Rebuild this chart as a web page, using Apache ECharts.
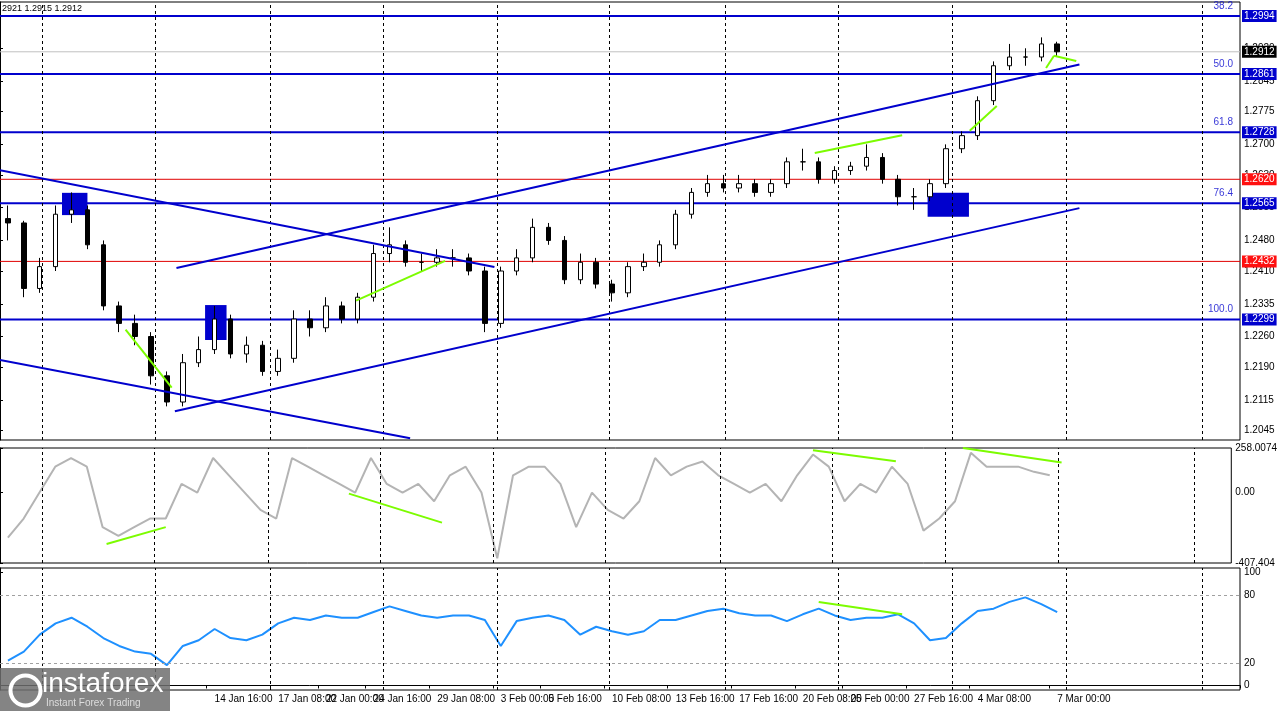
<!DOCTYPE html><html><head><meta charset="utf-8">
<script src="https://cdn.jsdelivr.net/npm/echarts@6/dist/echarts.min.js"></script>
<style>html,body{margin:0;padding:0;background:#fff}#c{width:1280px;height:711px}</style></head><body><div id="c"></div>
<script>
const closes=[1.2520,1.2370,1.2420,1.2540,1.2550,1.2470,1.2330,1.2290,1.2260,1.2170,1.2110,1.2200,1.2230,1.2300,1.2220,1.2240,1.2180,1.2210,1.2300,1.2280,1.2330,1.2300,1.2350,1.2450,1.2470,1.2430,1.2430,1.2440,1.2440,1.2410,1.2290,1.2410,1.2440,1.2510,1.2480,1.2390,1.2430,1.2380,1.2360,1.2420,1.2430,1.2470,1.2540,1.2590,1.2610,1.2600,1.2610,1.2590,1.2610,1.2660,1.2660,1.2620,1.2640,1.2650,1.2670,1.2620,1.2580,1.2580,1.2610,1.2690,1.2720,1.2800,1.2880,1.2900,1.2900,1.2930,1.2912];
const highs=[1.2560,1.2525,1.2440,1.2560,1.2590,1.2560,1.2480,1.2340,1.2310,1.2270,1.2180,1.2220,1.2260,1.2330,1.2310,1.2260,1.2250,1.2230,1.2320,1.2320,1.2350,1.2340,1.2360,1.2470,1.2510,1.2480,1.2450,1.2460,1.2460,1.2450,1.2420,1.2420,1.2460,1.2530,1.2520,1.2490,1.2450,1.2440,1.2390,1.2430,1.2450,1.2480,1.2550,1.2600,1.2630,1.2630,1.2630,1.2620,1.2620,1.2670,1.2690,1.2670,1.2650,1.2660,1.2700,1.2680,1.2630,1.2600,1.2620,1.2700,1.2730,1.2810,1.2890,1.2930,1.2920,1.2945,1.2935];
const lows=[1.2480,1.2350,1.2360,1.2410,1.2520,1.2460,1.2320,1.2270,1.2240,1.2150,1.2100,1.2100,1.2190,1.2220,1.2210,1.2200,1.2170,1.2170,1.2200,1.2260,1.2270,1.2290,1.2290,1.2340,1.2430,1.2420,1.2410,1.2420,1.2420,1.2400,1.2270,1.2280,1.2400,1.2430,1.2470,1.2380,1.2380,1.2370,1.2340,1.2350,1.2410,1.2420,1.2460,1.2530,1.2580,1.2590,1.2590,1.2580,1.2580,1.2600,1.2640,1.2610,1.2610,1.2630,1.2640,1.2610,1.2560,1.2550,1.2570,1.2600,1.2680,1.2710,1.2790,1.2870,1.2880,1.2890,1.2900];
const firstOpen=1.2530;
const cci=[-260,-150,0,150,200,150,-200,-250,-200,-150,-150,50,0,200,100,0,-100,-150,200,150,100,50,0,200,50,0,50,-50,100,150,0,-380,100,150,150,50,-200,0,-100,-150,-50,200,100,150,180,100,50,0,50,-50,100,220,150,-50,50,0,150,50,-220,-150,-50,230,150,150,150,120,100];
const rsi=[22,30,45,55,60,52,42,35,30,28,18,35,40,50,42,40,45,55,60,58,62,60,60,65,70,66,62,60,62,62,58,35,57,60,62,58,45,52,48,45,48,58,58,62,66,68,64,62,62,57,63,68,62,58,60,60,63,55,40,42,55,66,68,74,78,72,65];
const xLabelMap={10:'10 Jan 00:00',13:'14 Jan 16:00',17:'17 Jan 08:00',20:'22 Jan 00:00',23:'24 Jan 16:00',27:'29 Jan 08:00',31:'3 Feb 00:00',34:'5 Feb 16:00',38:'10 Feb 08:00',42:'13 Feb 16:00',46:'17 Feb 16:00',50:'20 Feb 08:00',53:'25 Feb 00:00',57:'27 Feb 16:00',61:'4 Mar 08:00',66:'7 Mar 00:00'};
const priceTicks=[1.2045,1.2115,1.2190,1.2260,1.2335,1.2410,1.2480,1.2555,1.2630,1.2700,1.2775,1.2845,1.2920];
const fibLevels=[1.2994,1.2861,1.2728,1.2565,1.2299];
const fibNames=['38.2','50.0','61.8','76.4','100.0'];
const redLevels=[1.2620,1.2432];
const lastPrice=1.2912;
const vLines=[2.65,9.75,17,24.1,31.25,38.35,45.6,52.7,59.9,67.05,75.65];
const channelUp=[[11.1,1.2417],[67.9,1.2883]];
const channelLow=[[11,1.2089],[67.9,1.2554]];
const desc1=[[0,1.2641],[31.1,1.2419]];
const desc2=[[0,1.2206],[25.8,1.2027]];
const greenMain=[[[7.9,1.2276],[10.8,1.2143]],[[22.4,1.2342],[28,1.2433]],[[51.25,1.2680],[56.75,1.2721]],[[61,1.2731],[62.7,1.2788]],[[65.8,1.2875],[66.3,1.2903]],[[66.3,1.2903],[67.7,1.2891]]];
const greenCci=[[[6.75,-297],[10.5,-200]],[[22.1,-6],[28,-174]],[[51.5,245],[56.75,181]],[[61,258],[67.25,174]]];
const greenRsi=[[[51.5,74],[56.75,63]]];
const boxes=[[[3.9,1.2589],[5.5,1.2538]],[[12.9,1.2332],[14.25,1.2252]],[[58.35,1.2589],[60.95,1.2534]]];
const NCAT=78;

const cats=[];for(let i=0;i<NCAT;i++)cats.push(xLabelMap[i]||'');
const ohlc=closes.map((c,i)=>[i?closes[i-1]:firstOpen,c,lows[i],highs[i]]);
const gridsDef=[{left:0,right:40,top:2,height:438},{left:0,right:40,top:448,height:115},{left:0,right:40,top:568,height:122}];
const grid=gridsDef.map(g=>Object.assign({show:true,borderColor:'#000',borderWidth:1,backgroundColor:'#fff'},g));
const xAxis=[],yAxis=[];
for(let k=0;k<3;k++){
 xAxis.push({type:'category',gridIndex:k,data:cats,boundaryGap:true,axisLine:{show:k==2,lineStyle:{color:'#000'}},axisTick:{show:k==2,interval:(i,v)=>v!=='',length:3,lineStyle:{color:'#000'}},axisLabel:{show:k==2,interval:(i,v)=>v!=='',color:'#000',fontSize:10,fontFamily:'Liberation Sans',align:'left',margin:4},splitLine:{show:false}});
}
for(let k=0;k<3;k++){xAxis.push({type:'value',gridIndex:k,min:0,max:NCAT,show:false});}
const lab={color:'#000',fontSize:10,fontFamily:'Liberation Sans',margin:4};
yAxis.push({type:'value',gridIndex:0,position:'right',min:1.2023,max:1.3026,axisLine:{show:true,lineStyle:{color:'#000'}},axisTick:{show:true,customValues:priceTicks,length:3,lineStyle:{color:'#000'}},axisLabel:Object.assign({customValues:priceTicks,formatter:v=>v.toFixed(4)},lab),splitLine:{show:false}});
yAxis.push({type:'value',gridIndex:1,position:'right',min:-407.404,max:258.0074,axisLine:{show:true,lineStyle:{color:'#000'}},axisTick:{show:true,customValues:[258.0074,0,-407.404],length:3},axisLabel:Object.assign({customValues:[258.0074,0,-407.404],formatter:v=>v===0?'0.00':String(v),verticalAlign:'middle'},lab),splitLine:{show:false}});
yAxis.push({type:'value',gridIndex:2,position:'right',min:-4,max:104,axisLine:{show:true,lineStyle:{color:'#000'}},axisTick:{show:true,customValues:[0,20,80,100],length:3},axisLabel:Object.assign({customValues:[0,20,80,100]},lab),splitLine:{show:false}});
const levelVals=[...fibLevels,...redLevels,lastPrice];
const boxStyle={color:'#fff',fontSize:10,fontFamily:'Liberation Sans',padding:[1,2]};
yAxis.push({type:'value',gridIndex:0,position:'right',min:1.2023,max:1.3026,z:20,axisLine:{show:false},axisTick:{show:false},splitLine:{show:false},
 axisLabel:{customValues:levelVals,margin:2,showMinLabel:true,showMaxLabel:true,hideOverlap:false,
  formatter:v=>{const s=v.toFixed(4);if(fibLevels.some(f=>Math.abs(f-v)<1e-6))return '{b|'+s+'}';if(redLevels.some(f=>Math.abs(f-v)<1e-6))return '{r|'+s+'}';return '{k|'+s+'}';},
  rich:{b:Object.assign({backgroundColor:'#0000cd'},boxStyle),r:Object.assign({backgroundColor:'#ff1010'},boxStyle),k:Object.assign({backgroundColor:'#000'},boxStyle)}}});
const blue='#0000cd', green='#7cfc00';
function seg(pts,xi,yi,color,w,z){return {type:'line',xAxisIndex:xi,yAxisIndex:yi,data:pts,symbol:'none',silent:true,lineStyle:{color:color,width:w},z:z||5,animation:false};}
const series=[];
series.push({type:'candlestick',xAxisIndex:0,yAxisIndex:0,data:ohlc,barWidth:5,z:4,animation:false,
 itemStyle:{color:'#fff',color0:'#000',borderColor:'#000',borderColor0:'#000',borderWidth:1}});
function hline(v,color,w){
 return {type:'line',xAxisIndex:3,yAxisIndex:0,silent:true,z:3,animation:false,symbol:'none',lineStyle:{color:color,width:w},data:[[0,v],[NCAT,v]]};
}
fibLevels.forEach((v,i)=>{series.push(hline(v,blue,2));
 series.push({type:'scatter',xAxisIndex:3,yAxisIndex:0,symbolSize:0,silent:true,z:9,data:[{value:[NCAT,v],label:{show:true,position:'insideBottomRight',offset:[-2,0],formatter:fibNames[i],color:blue,fontSize:10,fontFamily:'Liberation Sans',align:'right',verticalAlign:'bottom'}}]});});
redLevels.forEach(v=>series.push(hline(v,'#e00000',1)));
series.push(hline(lastPrice,'#c0c0c0',1));
for(let k=0;k<3;k++){series.push({type:'line',xAxisIndex:3+k,yAxisIndex:k,data:[],markLine:{silent:true,symbol:'none',animation:false,label:{show:false},lineStyle:{color:'#000',type:[3,3],width:1},data:vLines.map(v=>({xAxis:v}))}});}
[channelUp,channelLow,desc1,desc2].forEach(p=>series.push(seg(p,3,0,blue,2,6)));
greenMain.forEach(p=>series.push(seg(p,3,0,green,2,7)));
greenCci.forEach(p=>series.push(seg(p,4,1,green,2,7)));
greenRsi.forEach(p=>series.push(seg(p,5,2,green,2,7)));
series.push({type:'line',xAxisIndex:3,yAxisIndex:0,data:[],markArea:{silent:true,itemStyle:{color:blue,opacity:1},data:boxes.map(b=>[{coord:b[0]},{coord:b[1]}])},z:8});
series.push({type:'line',xAxisIndex:1,yAxisIndex:1,data:cci,symbol:'none',lineStyle:{color:'#b4b4b4',width:2},animation:false});
series.push({type:'line',xAxisIndex:2,yAxisIndex:2,data:rsi,symbol:'none',lineStyle:{color:'#1e90ff',width:2},animation:false,
 markLine:{silent:true,symbol:'none',label:{show:false},lineStyle:{color:'#a0a0a0',type:[3,3],width:1},data:[{yAxis:80},{yAxis:20}]}});
const chart=echarts.init(document.getElementById('c'));
chart.setOption({animation:false,grid,xAxis,yAxis,series,
 graphic:[
  {type:'text',left:2,top:4,style:{text:'2921 1.2915 1.2912',fontSize:9,fill:'#000',fontFamily:'Liberation Sans'}},
  {type:'rect',left:0,top:668,shape:{width:170,height:43},style:{fill:'rgba(110,110,110,0.85)'},z:100},
  {type:'text',left:42,top:670,style:{text:'instaforex',fontSize:28,fill:'#fff',fontFamily:'Liberation Sans'},z:101},
  {type:'text',left:46,top:698,style:{text:'Instant Forex Trading',fontSize:10,fill:'#ddd',fontFamily:'Liberation Sans'},z:101},
  {type:'circle',left:8,top:673,shape:{r:15},style:{fill:'none',stroke:'#fff',lineWidth:4},z:101}
 ]});
</script></body></html>
